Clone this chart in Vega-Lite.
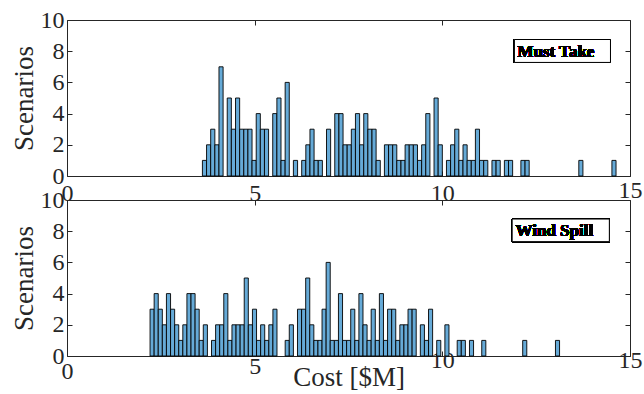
{
  "$schema": "https://vega.github.io/schema/vega-lite/v6.json",
  "autosize": {"type": "pad"},
  "padding": {"left": 9, "top": 7, "right": 0, "bottom": 0},
  "background": "white",
  "spacing": 24,
  "bounds": "flush",
  "config": {
    "view": {"stroke": "#262626", "strokeWidth": 1},
    "axis": {
      "labelFont": "Liberation Serif", "labelFontSize": 24, "labelColor": "#262626",
      "titleFont": "Liberation Serif", "titleFontSize": 27, "titleFontWeight": "normal", "titleColor": "#262626",
      "domain": false, "grid": false, "tickColor": "#262626", "tickSize": -5, "tickWidth": 1
    }
  },
  "datasets": {
    "mustTake": [
      {"cost": 3.608, "end": 3.718, "scenarios": 1}, {"cost": 3.718, "end": 3.828, "scenarios": 2}, {"cost": 3.828, "end": 3.939, "scenarios": 3}, {"cost": 3.939, "end": 4.049, "scenarios": 2},
      {"cost": 4.049, "end": 4.159, "scenarios": 7}, {"cost": 4.269, "end": 4.379, "scenarios": 5}, {"cost": 4.379, "end": 4.490, "scenarios": 3}, {"cost": 4.490, "end": 4.600, "scenarios": 5},
      {"cost": 4.600, "end": 4.710, "scenarios": 3}, {"cost": 4.710, "end": 4.820, "scenarios": 3}, {"cost": 4.820, "end": 4.930, "scenarios": 3}, {"cost": 4.930, "end": 5.041, "scenarios": 1},
      {"cost": 5.041, "end": 5.151, "scenarios": 4}, {"cost": 5.151, "end": 5.261, "scenarios": 3}, {"cost": 5.261, "end": 5.371, "scenarios": 3}, {"cost": 5.481, "end": 5.592, "scenarios": 4},
      {"cost": 5.592, "end": 5.702, "scenarios": 5}, {"cost": 5.702, "end": 5.812, "scenarios": 1}, {"cost": 5.812, "end": 5.922, "scenarios": 6}, {"cost": 6.032, "end": 6.143, "scenarios": 1},
      {"cost": 6.253, "end": 6.363, "scenarios": 1}, {"cost": 6.363, "end": 6.473, "scenarios": 2}, {"cost": 6.473, "end": 6.583, "scenarios": 3}, {"cost": 6.583, "end": 6.694, "scenarios": 1},
      {"cost": 6.694, "end": 6.804, "scenarios": 1}, {"cost": 6.914, "end": 7.024, "scenarios": 3}, {"cost": 7.134, "end": 7.245, "scenarios": 4}, {"cost": 7.245, "end": 7.355, "scenarios": 4},
      {"cost": 7.355, "end": 7.465, "scenarios": 2}, {"cost": 7.465, "end": 7.575, "scenarios": 2}, {"cost": 7.575, "end": 7.685, "scenarios": 3}, {"cost": 7.685, "end": 7.796, "scenarios": 4},
      {"cost": 7.796, "end": 7.906, "scenarios": 2}, {"cost": 7.906, "end": 8.016, "scenarios": 4}, {"cost": 8.016, "end": 8.126, "scenarios": 3}, {"cost": 8.126, "end": 8.236, "scenarios": 3},
      {"cost": 8.236, "end": 8.347, "scenarios": 1}, {"cost": 8.457, "end": 8.567, "scenarios": 2}, {"cost": 8.567, "end": 8.677, "scenarios": 2}, {"cost": 8.677, "end": 8.787, "scenarios": 2},
      {"cost": 8.787, "end": 8.898, "scenarios": 1}, {"cost": 8.898, "end": 9.008, "scenarios": 1}, {"cost": 9.008, "end": 9.118, "scenarios": 2}, {"cost": 9.118, "end": 9.228, "scenarios": 2},
      {"cost": 9.228, "end": 9.338, "scenarios": 2}, {"cost": 9.338, "end": 9.449, "scenarios": 1}, {"cost": 9.449, "end": 9.559, "scenarios": 2}, {"cost": 9.559, "end": 9.669, "scenarios": 4},
      {"cost": 9.779, "end": 9.889, "scenarios": 5}, {"cost": 9.889, "end": 10.000, "scenarios": 2}, {"cost": 10.110, "end": 10.220, "scenarios": 1}, {"cost": 10.220, "end": 10.330, "scenarios": 2},
      {"cost": 10.330, "end": 10.440, "scenarios": 3}, {"cost": 10.440, "end": 10.551, "scenarios": 1}, {"cost": 10.551, "end": 10.661, "scenarios": 2}, {"cost": 10.661, "end": 10.771, "scenarios": 1},
      {"cost": 10.771, "end": 10.881, "scenarios": 1}, {"cost": 10.881, "end": 10.991, "scenarios": 3}, {"cost": 10.991, "end": 11.102, "scenarios": 1}, {"cost": 11.102, "end": 11.212, "scenarios": 1},
      {"cost": 11.322, "end": 11.432, "scenarios": 1}, {"cost": 11.432, "end": 11.543, "scenarios": 1}, {"cost": 11.653, "end": 11.763, "scenarios": 1}, {"cost": 11.763, "end": 11.873, "scenarios": 1},
      {"cost": 12.093, "end": 12.204, "scenarios": 1}, {"cost": 12.204, "end": 12.314, "scenarios": 1}, {"cost": 13.636, "end": 13.746, "scenarios": 1}, {"cost": 14.518, "end": 14.628, "scenarios": 1}
    ],
    "windSpill": [
      {"cost": 2.213, "end": 2.322, "scenarios": 3}, {"cost": 2.322, "end": 2.431, "scenarios": 4}, {"cost": 2.431, "end": 2.540, "scenarios": 3}, {"cost": 2.540, "end": 2.649, "scenarios": 2},
      {"cost": 2.649, "end": 2.759, "scenarios": 4}, {"cost": 2.759, "end": 2.868, "scenarios": 3}, {"cost": 2.868, "end": 2.977, "scenarios": 2}, {"cost": 2.977, "end": 3.086, "scenarios": 1},
      {"cost": 3.086, "end": 3.195, "scenarios": 2}, {"cost": 3.195, "end": 3.304, "scenarios": 4}, {"cost": 3.304, "end": 3.413, "scenarios": 4}, {"cost": 3.413, "end": 3.522, "scenarios": 3},
      {"cost": 3.522, "end": 3.631, "scenarios": 1}, {"cost": 3.631, "end": 3.741, "scenarios": 2}, {"cost": 3.850, "end": 3.959, "scenarios": 1}, {"cost": 3.959, "end": 4.068, "scenarios": 2},
      {"cost": 4.068, "end": 4.177, "scenarios": 2}, {"cost": 4.177, "end": 4.286, "scenarios": 4}, {"cost": 4.286, "end": 4.395, "scenarios": 1}, {"cost": 4.395, "end": 4.504, "scenarios": 2},
      {"cost": 4.504, "end": 4.613, "scenarios": 2}, {"cost": 4.613, "end": 4.722, "scenarios": 2}, {"cost": 4.722, "end": 4.831, "scenarios": 5}, {"cost": 4.831, "end": 4.941, "scenarios": 2},
      {"cost": 4.941, "end": 5.050, "scenarios": 3}, {"cost": 5.050, "end": 5.159, "scenarios": 1}, {"cost": 5.159, "end": 5.268, "scenarios": 2}, {"cost": 5.268, "end": 5.377, "scenarios": 1},
      {"cost": 5.377, "end": 5.486, "scenarios": 2}, {"cost": 5.486, "end": 5.595, "scenarios": 3}, {"cost": 5.813, "end": 5.922, "scenarios": 1}, {"cost": 5.922, "end": 6.032, "scenarios": 2},
      {"cost": 6.141, "end": 6.250, "scenarios": 3}, {"cost": 6.250, "end": 6.359, "scenarios": 3}, {"cost": 6.359, "end": 6.468, "scenarios": 5}, {"cost": 6.468, "end": 6.577, "scenarios": 2},
      {"cost": 6.577, "end": 6.686, "scenarios": 1}, {"cost": 6.686, "end": 6.795, "scenarios": 1}, {"cost": 6.795, "end": 6.904, "scenarios": 3}, {"cost": 6.904, "end": 7.013, "scenarios": 6},
      {"cost": 7.013, "end": 7.123, "scenarios": 1}, {"cost": 7.123, "end": 7.232, "scenarios": 1}, {"cost": 7.232, "end": 7.341, "scenarios": 4}, {"cost": 7.341, "end": 7.450, "scenarios": 1},
      {"cost": 7.450, "end": 7.559, "scenarios": 1}, {"cost": 7.559, "end": 7.668, "scenarios": 3}, {"cost": 7.668, "end": 7.777, "scenarios": 1}, {"cost": 7.777, "end": 7.886, "scenarios": 4},
      {"cost": 7.886, "end": 7.995, "scenarios": 2}, {"cost": 7.995, "end": 8.104, "scenarios": 1}, {"cost": 8.104, "end": 8.214, "scenarios": 3}, {"cost": 8.214, "end": 8.323, "scenarios": 1},
      {"cost": 8.323, "end": 8.432, "scenarios": 4}, {"cost": 8.432, "end": 8.541, "scenarios": 1}, {"cost": 8.541, "end": 8.650, "scenarios": 3}, {"cost": 8.650, "end": 8.759, "scenarios": 3},
      {"cost": 8.759, "end": 8.868, "scenarios": 1}, {"cost": 8.868, "end": 8.977, "scenarios": 2}, {"cost": 8.977, "end": 9.086, "scenarios": 2}, {"cost": 9.086, "end": 9.195, "scenarios": 3},
      {"cost": 9.195, "end": 9.304, "scenarios": 3}, {"cost": 9.414, "end": 9.523, "scenarios": 2}, {"cost": 9.523, "end": 9.632, "scenarios": 1}, {"cost": 9.632, "end": 9.741, "scenarios": 3},
      {"cost": 9.850, "end": 9.959, "scenarios": 1}, {"cost": 10.068, "end": 10.177, "scenarios": 2}, {"cost": 10.396, "end": 10.505, "scenarios": 1}, {"cost": 10.505, "end": 10.614, "scenarios": 1},
      {"cost": 10.723, "end": 10.832, "scenarios": 1}, {"cost": 11.050, "end": 11.159, "scenarios": 1}, {"cost": 12.141, "end": 12.250, "scenarios": 1}, {"cost": 13.014, "end": 13.123, "scenarios": 1}
    ]
  },
  "vconcat": [
    {
      "width": 563, "height": 156,
      "data": {"name": "mustTake"},
      "resolve": {"axis": {"x": "independent", "y": "independent"}},
      "layer": [
        {
          "mark": {"type": "bar", "fill": "#66AAD7", "stroke": "#000000", "strokeWidth": 0.9},
          "encoding": {
            "x": {"field": "cost", "type": "quantitative",
                  "scale": {"domain": [0, 15], "nice": false},
                  "axis": {"values": [0, 5, 10, 15], "title": null, "labelFlush": false,
                           "labelPadding": {"condition": {"test": "datum.value == 15", "value": 7}, "value": 10}}},
            "x2": {"field": "end"},
            "y": {"field": "scenarios", "type": "quantitative", "scale": {"domain": [0, 10], "nice": false},
                  "axis": {"values": [0, 2, 4, 6, 8, 10], "title": "Scenarios", "labelPadding": 8,
                           "titleX": -35, "titleBaseline": "alphabetic", "labelFlush": false}},
            "y2": {"datum": 0}
          }
        },
        {
          "mark": {"type": "rect", "fill": "white", "stroke": "#000000", "strokeWidth": 1},
          "encoding": {
            "x": {"datum": 11.92, "type": "quantitative", "axis": {"orient": "top", "labels": false, "title": null, "values": [0, 5, 10, 15]}},
            "x2": {"datum": 14.48},
            "y": {"datum": 8.75, "type": "quantitative", "axis": {"orient": "right", "labels": false, "title": null, "values": [0, 2, 4, 6, 8, 10]}},
            "y2": {"datum": 7.28}
          }
        },
        {
          "mark": {"type": "text", "text": "Must Take", "align": "left", "baseline": "middle", "font": "Liberation Serif", "fontWeight": "bold", "fontSize": 17, "fill": "#000000", "strokeWidth": 0},
          "encoding": {
            "x": {"datum": 12.0, "type": "quantitative", "axis": null},
            "y": {"datum": 7.98, "type": "quantitative", "axis": null}
          }
        }
      ]
    },
    {
      "width": 563, "height": 156,
      "data": {"name": "windSpill"},
      "resolve": {"axis": {"x": "independent", "y": "independent"}},
      "layer": [
        {
          "mark": {"type": "bar", "fill": "#66AAD7", "stroke": "#000000", "strokeWidth": 0.9},
          "encoding": {
            "x": {"field": "cost", "type": "quantitative",
                  "scale": {"domain": [0, 15], "nice": false},
                  "axis": {"values": [0, 5, 10, 15], "title": "Cost [$M]", "labelFlush": false,
                           "labelPadding": {"condition": [{"test": "datum.value >= 10", "value": -3}, {"test": "datum.value == 0", "value": 8}], "value": 3},
                           "titleY": 29, "titleBaseline": "alphabetic"}},
            "x2": {"field": "end"},
            "y": {"field": "scenarios", "type": "quantitative", "scale": {"domain": [0, 10], "nice": false},
                  "axis": {"values": [0, 2, 4, 6, 8, 10], "title": "Scenarios", "labelPadding": 8,
                           "titleX": -35, "titleBaseline": "alphabetic", "labelFlush": false}},
            "y2": {"datum": 0}
          }
        },
        {
          "mark": {"type": "rect", "fill": "white", "stroke": "#000000", "strokeWidth": 1},
          "encoding": {
            "x": {"datum": 11.86, "type": "quantitative", "axis": {"orient": "top", "labels": false, "title": null, "values": [0, 5, 10, 15]}},
            "x2": {"datum": 14.45},
            "y": {"datum": 8.78, "type": "quantitative", "axis": {"orient": "right", "labels": false, "title": null, "values": [0, 2, 4, 6, 8, 10]}},
            "y2": {"datum": 7.33}
          }
        },
        {
          "mark": {"type": "text", "text": "Wind Spill", "align": "left", "baseline": "middle", "font": "Liberation Serif", "fontWeight": "bold", "fontSize": 17, "fill": "#000000", "strokeWidth": 0},
          "encoding": {
            "x": {"datum": 11.95, "type": "quantitative", "axis": null},
            "y": {"datum": 8.0, "type": "quantitative", "axis": null}
          }
        }
      ]
    }
  ]
}
